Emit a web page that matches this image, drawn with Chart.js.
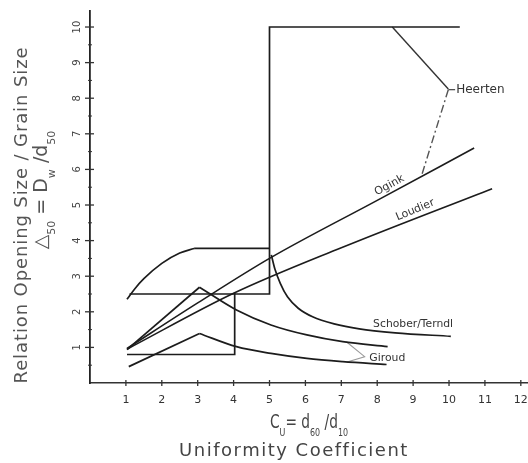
<!DOCTYPE html>
<html><head><meta charset="utf-8">
<script src="https://cdn.jsdelivr.net/npm/chart.js@4/dist/chart.umd.min.js"></script>
<style>html,body{margin:0;padding:0;background:#fff;}#wrap{width:528px;height:463px;position:relative;}</style>
</head><body><div id="wrap"><canvas id="c" width="528" height="463"></canvas></div>
<script>
// ---------- data ----------
const xTickValues = [1,2,3,4,5,6,7,8,9,10,11,12];
const xTickLabels = ['1','2','3','4','5','6','7','8','9','10','11','12'];
const yTickValues = [1,2,3,4,5,6,7,8,9,10];
const yTickLabels = ['1','2','3','4','5','6','7','8','9','10'];

// upper boundary box (2.5 line, step at Cu=5 up to 10)
const boxUpperX = [1.1, 5.0, 5.0, 10.3];
const boxUpperY = [2.5, 2.5, 10.0, 10.0];
// lower boundary box
const boxLowerX = [1.03, 4.03, 4.03];
const boxLowerY = [0.8, 0.8, 2.55];
// curved upper bound (rising arc then flat to Cu=5)
const arcX = [1.03, 1.25, 1.5, 2.0, 2.5, 2.9];
const arcY = [2.35, 2.65, 2.93, 3.36, 3.65, 3.78];
const arcFlatX = [2.9, 5.0];
const arcFlatY = [3.78, 3.78];
// Ogink
const oginkX = [1.03, 3.0, 5.0, 8.0, 10.7];
const oginkY = [0.97, 2.25, 3.5, 5.13, 6.6];
// Loudier
const loudierX = [1.03, 4.0, 7.0, 11.2];
const loudierY = [0.95, 2.52, 3.8, 5.46];
// Giroud (upper curve)
const giroudUpRiseX = [1.03, 3.05];
const giroudUpRiseY = [0.94, 2.69];
const giroudUpFallX = [3.05, 4.08, 5.04, 6.04, 7.04, 8.29];
const giroudUpFallY = [2.69, 2.05, 1.63, 1.35, 1.16, 1.02];
// Giroud (lower curve)
const giroudLoRiseX = [1.08, 3.05];
const giroudLoRiseY = [0.46, 1.39];
const giroudLoFallX = [3.05, 4.08, 5.04, 6.04, 7.04, 8.26];
const giroudLoFallY = [1.39, 1.02, 0.83, 0.69, 0.6, 0.52];
// Schober / Terndl
const schoberX = [5.05, 5.15, 5.3, 5.5, 5.8, 6.2, 6.8, 7.5, 8.5, 10.05];
const schoberY = [3.6, 3.2, 2.8, 2.42, 2.1, 1.86, 1.66, 1.52, 1.41, 1.31];
// Heerten
const heertenSolidX = [8.42, 9.98];
const heertenSolidY = [10.0, 8.26];
const heertenDashX = [9.98, 9.24];
const heertenDashY = [8.24, 5.84];
// label leader lines
const heertenLeaderX = [9.98, 10.17];
const heertenLeaderY = [8.24, 8.24];
const giroudLeaderX = [7.14, 7.65, 7.16];
const giroudLeaderY = [1.16, 0.74, 0.59];

// ---------- helpers ----------
const pts = (xs, ys) => xs.map((x, i) => ({x: x, y: ys[i]}));
const INK = '#1c1c1c';
const line = (xs, ys, extra) => Object.assign({
  data: pts(xs, ys), showLine: true, borderColor: INK, borderWidth: 1.7,
  pointRadius: 0, fill: false, tension: 0
}, extra || {});
const smooth = {cubicInterpolationMode: 'monotone'};

const datasets = [
  line(boxUpperX, boxUpperY),
  line(boxLowerX, boxLowerY),
  line(arcX, arcY, smooth),
  line(arcFlatX, arcFlatY),
  line(oginkX, oginkY, Object.assign({borderWidth: 1.6}, smooth)),
  line(loudierX, loudierY, Object.assign({borderWidth: 1.6}, smooth)),
  line(giroudUpRiseX, giroudUpRiseY),
  line(giroudUpFallX, giroudUpFallY, smooth),
  line(giroudLoRiseX, giroudLoRiseY),
  line(giroudLoFallX, giroudLoFallY, smooth),
  line(schoberX, schoberY, smooth),
  line(heertenSolidX, heertenSolidY, {borderColor: '#333', borderWidth: 1.4}),
  line(heertenDashX, heertenDashY, {borderColor: '#555', borderWidth: 1.4, borderDash: [8, 3, 2, 3]}),
  line(heertenLeaderX, heertenLeaderY, {borderColor: '#444', borderWidth: 1.2}),
  line(giroudLeaderX, giroudLeaderY, {borderColor: '#999', borderWidth: 1.1})
];

const FAM = '"DejaVu Sans", "Liberation Sans", sans-serif';

function fitText(ctx, text, cx, cy, size, targetW, rot, color) {
  ctx.save();
  ctx.translate(cx, cy);
  ctx.rotate(rot || 0);
  ctx.font = size + 'px ' + FAM;
  ctx.fillStyle = color;
  ctx.textBaseline = 'middle';
  ctx.textAlign = 'left';
  let w = ctx.measureText(text).width;
  if (targetW && w > targetW) {
    ctx.scale(targetW / w, 1);
    ctx.fillText(text, -w / 2, 0);
  } else {
    if (targetW && ('letterSpacing' in ctx) && text.length > 1) {
      ctx.letterSpacing = ((targetW - w) / (text.length - 1)) + 'px';
      w = ctx.measureText(text).width;
    }
    ctx.fillText(text, -w / 2, 0);
  }
  ctx.restore();
}

// pieces: [text, isSub]
function formula(ctx, pieces, cx, cy, mainSize, subSize, targetW, rot, color) {
  ctx.save();
  ctx.translate(cx, cy);
  ctx.rotate(rot || 0);
  ctx.fillStyle = color;
  ctx.textBaseline = 'alphabetic';
  ctx.textAlign = 'left';
  let total = 0;
  const widths = pieces.map(p => {
    ctx.font = (p[1] ? subSize : mainSize) + 'px ' + FAM;
    const w = ctx.measureText(p[0]).width;
    total += w;
    return w;
  });
  let sx = 1;
  if (targetW && total > targetW) sx = targetW / total;
  ctx.scale(sx, 1);
  let x = -total / 2;
  pieces.forEach((p, i) => {
    ctx.font = (p[1] ? subSize : mainSize) + 'px ' + FAM;
    ctx.fillText(p[0], x, p[1] ? mainSize * 0.42 : 0);
    x += widths[i];
  });
  ctx.restore();
}

const decorPlugin = {
  id: 'decor',
  afterDraw(chart) {
    const ctx = chart.ctx;
    const xs = chart.scales.x, ys = chart.scales.y;
    const x0 = xs.getPixelForValue(0), y0 = ys.getPixelForValue(0);
    ctx.save();
    ctx.strokeStyle = '#333';
    ctx.lineWidth = 1.3;
    xTickValues.forEach(v => {
      const px = xs.getPixelForValue(v);
      ctx.beginPath(); ctx.moveTo(px, y0 - 3); ctx.lineTo(px, y0 + 3); ctx.stroke();
    });
    yTickValues.forEach(v => {
      const py = ys.getPixelForValue(v);
      ctx.beginPath(); ctx.moveTo(x0 - 5, py); ctx.lineTo(x0 + 4, py); ctx.stroke();
    });
    ctx.lineWidth = 1;
    yTickValues.forEach(v => {
      const py = ys.getPixelForValue(v - 0.5);
      ctx.beginPath(); ctx.moveTo(x0 - 2, py); ctx.lineTo(x0 + 2, py); ctx.stroke();
    });
    ctx.restore();

    xTickValues.forEach((v, i) => {
      fitText(ctx, xTickLabels[i], xs.getPixelForValue(v), 400, 11, 0, 0, '#333');
    });
    yTickValues.forEach((v, i) => {
      fitText(ctx, yTickLabels[i], 77, ys.getPixelForValue(v), 10, 0, -Math.PI / 2, '#444');
    });

    const P = (x, y) => [xs.getPixelForValue(x), ys.getPixelForValue(y)];
    let p = P(10.2, 8.24);
    ctx.save(); ctx.font = '12px ' + FAM; ctx.fillStyle = '#333'; ctx.textBaseline = 'middle';
    ctx.fillText('Heerten', p[0], p[1]); ctx.restore();
    p = P(8.34, 5.55);
    fitText(ctx, 'Ogink', p[0], p[1], 11, 0, -0.5, '#333');
    p = P(9.06, 4.86);
    fitText(ctx, 'Loudier', p[0], p[1], 11, 0, -0.39, '#333');
    p = P(9.0, 1.64);
    fitText(ctx, 'Schober/Terndl', p[0], p[1], 11, 80, 0, '#333');
    p = P(8.28, 0.7);
    fitText(ctx, 'Giroud', p[0], p[1], 11, 36, 0, '#333');

    fitText(ctx, 'Relation Opening Size / Grain Size', 22, 215, 18, 336, -Math.PI / 2, '#555');
    formula(ctx, [['\u25B3', false], ['50', true], [' = D', false], ['w', true], [' /d', false], ['50', true]],
      47, 190, 19, 11, 146, -Math.PI / 2, '#555');
    formula(ctx, [['C', false], ['U', true], ['= d', false], ['60', true], [' /d', false], ['10', true]],
      309, 428, 19, 11, 78, 0, '#444');
    fitText(ctx, 'Uniformity Coefficient', 294, 451, 18, 228, 0, '#444');
  }
};

new Chart(document.getElementById('c'), {
  type: 'scatter',
  data: {datasets: datasets},
  options: {
    responsive: false,
    animation: false,
    devicePixelRatio: 1,
    layout: {padding: {top: 11, right: 0, left: 0, bottom: 0}},
    plugins: {legend: {display: false}, tooltip: {enabled: false}},
    scales: {
      x: {
        type: 'linear', min: 0, max: 12.2,
        grid: {display: false, drawTicks: false},
        ticks: {display: false},
        border: {display: true, color: '#333', width: 1.4},
        afterFit(s) { s.height = 80; }
      },
      y: {
        type: 'linear', min: 0, max: 10.45,
        grid: {display: false, drawTicks: false},
        ticks: {display: false},
        border: {display: true, color: '#222', width: 1.8},
        afterFit(s) { s.width = 90; }
      }
    }
  },
  plugins: [decorPlugin]
});
</script>
</body></html>
